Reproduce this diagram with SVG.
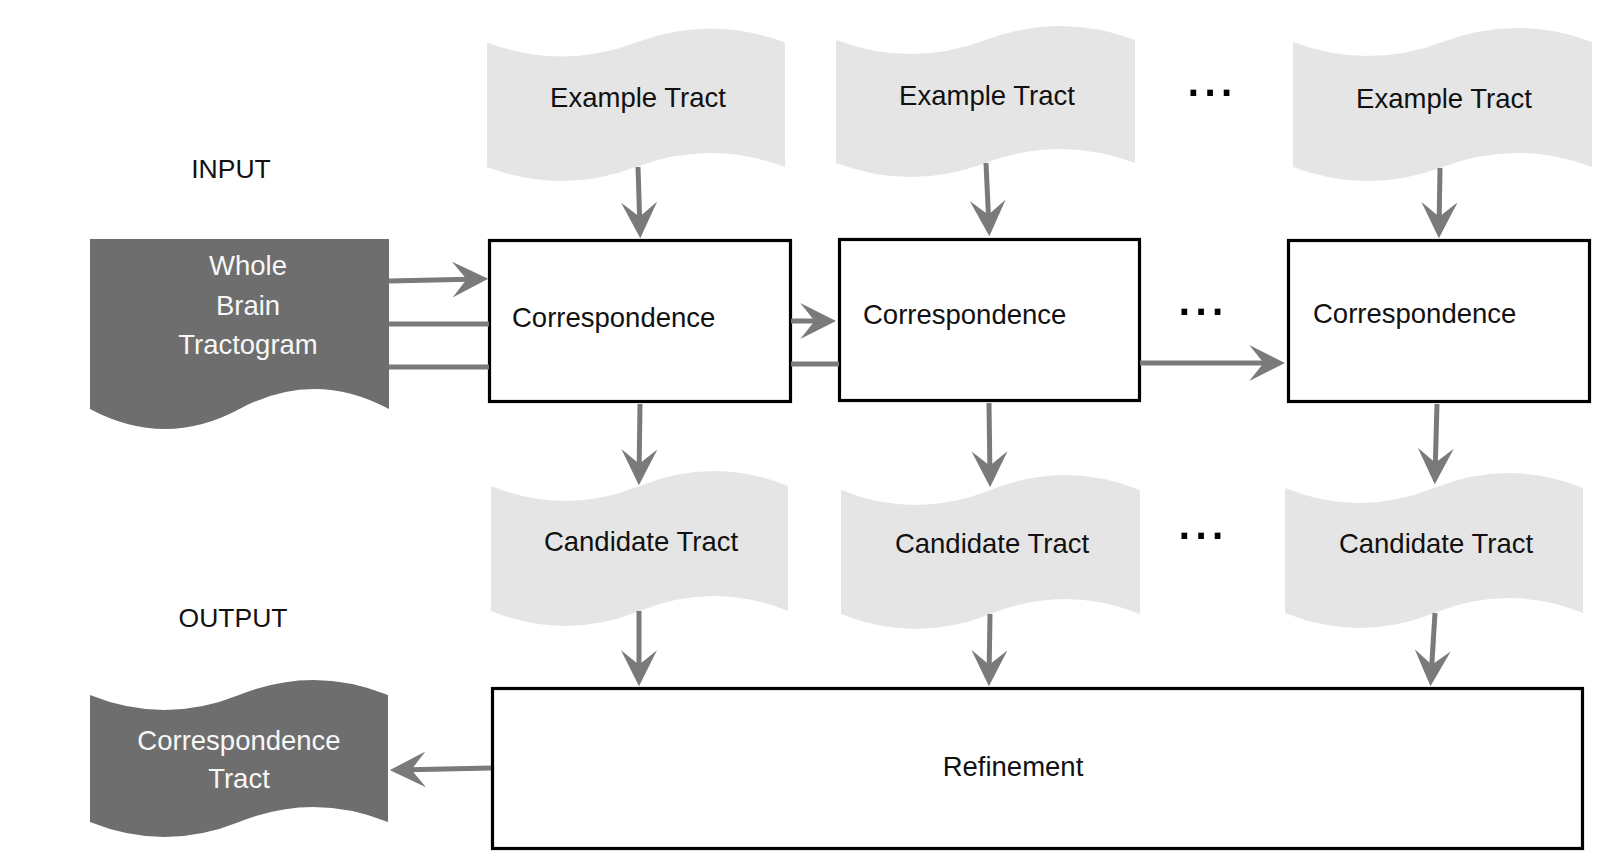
<svg xmlns="http://www.w3.org/2000/svg" width="1615" height="865" viewBox="0 0 1615 865">
<style>
.light{fill:#e5e5e5;stroke:none}
.dark{fill:#6e6e6e;stroke:none}
.box{fill:#ffffff;stroke:#000000;stroke-width:3.2}
.t{font-family:"Liberation Sans",Arial,sans-serif;font-size:27.5px;fill:#111111}
.tw{font-family:"Liberation Sans",Arial,sans-serif;font-size:27.5px;fill:#f7f7f7;text-anchor:middle}
.c{text-anchor:middle}
.dots{font-family:"Liberation Sans",Arial,sans-serif;font-size:60px;fill:#000000}
.conn line{stroke:#7a7a7a;stroke-width:5;fill:none}
.conn line.a{marker-end:url(#ah)}
</style>
<defs>
<marker id="ah" markerUnits="userSpaceOnUse" markerWidth="36" markerHeight="36" viewBox="0 0 35 35" refX="27" refY="17.5" orient="auto">
<path d="M35,17.5 L0,0 L14,17.5 L0,35 Z" fill="#7a7a7a"/>
</marker>
</defs>
<rect width="1615" height="865" fill="#ffffff"/>

<text class="t c" x="231" y="178" style="font-size:26.5px">INPUT</text>
<text class="t c" x="233" y="627" style="font-size:26.5px">OUTPUT</text>

<g id="whole-brain">
<path class="dark" d="M90,239 L389,239 L389,409 Q314,369 239.5,409 T90,409 Z"/>
<text class="tw" x="248" y="275">Whole</text>
<text class="tw" x="248" y="315">Brain</text>
<text class="tw" x="248" y="354">Tractogram</text>
</g>

<g id="example1">
<path class="light" d="M487,42.5 Q561.5,70.5 636,42.5 T785,42.5 L785,167 Q710.5,139 636,167 T487,167 Z"/>
<text class="t c" x="638" y="107">Example Tract</text>
</g>
<g id="example2">
<path class="light" d="M836,40 Q910.75,68 985.5,40 T1135,40 L1135,163 Q1060.25,135 985.5,163 T836,163 Z"/>
<text class="t c" x="987" y="105">Example Tract</text>
</g>
<g id="example3">
<path class="light" d="M1293,42 Q1367.75,70 1442.5,42 T1592,42 L1592,167 Q1517.25,139 1442.5,167 T1293,167 Z"/>
<text class="t c" x="1444" y="108">Example Tract</text>
</g>

<g id="candidate1">
<path class="light" d="M491,486 Q565.25,516 639.5,486 T788,486 L788,611 Q713.75,581 639.5,611 T491,611 Z"/>
<text class="t c" x="641" y="551">Candidate Tract</text>
</g>
<g id="candidate2">
<path class="light" d="M841,490 Q915.75,520 990.5,490 T1140,490 L1140,614 Q1065.25,584 990.5,614 T841,614 Z"/>
<text class="t c" x="992" y="553">Candidate Tract</text>
</g>
<g id="candidate3">
<path class="light" d="M1285,488 Q1359.5,518 1434,488 T1583,488 L1583,613 Q1508.5,583 1434,613 T1285,613 Z"/>
<text class="t c" x="1436" y="553">Candidate Tract</text>
</g>

<g id="correspondence-tract">
<path class="dark" d="M90,695 Q164.5,725 239,695 T388,695 L388,822 Q313.5,792 239,822 T90,822 Z"/>
<text class="tw" x="239" y="750">Correspondence</text>
<text class="tw" x="239" y="788">Tract</text>
</g>

<g id="corr1">
<rect class="box" x="489.5" y="240.5" width="301" height="161"/>
<text class="t" x="512" y="327">Correspondence</text>
</g>
<g id="corr2">
<rect class="box" x="839.5" y="239.5" width="300" height="161"/>
<text class="t" x="863" y="324">Correspondence</text>
</g>
<g id="corr3">
<rect class="box" x="1288.5" y="240.5" width="301" height="161"/>
<text class="t" x="1313" y="323">Correspondence</text>
</g>

<g id="refinement">
<rect class="box" x="492.5" y="688.5" width="1090" height="160"/>
<text class="t c" x="1013" y="776">Refinement</text>
</g>

<g id="ellipses">
<text class="dots" x="1185" y="96">...</text>
<text class="dots" x="1176" y="315">...</text>
<text class="dots" x="1176" y="539">...</text>
</g>

<g id="connectors" class="conn">
<line class="a" x1="638" y1="167" x2="640" y2="230"/>
<line class="a" x1="986" y1="163" x2="989" y2="228"/>
<line class="a" x1="1440" y1="168" x2="1439" y2="230"/>
<line class="a" x1="389" y1="281" x2="480" y2="279"/>
<line x1="389" y1="324" x2="489" y2="324"/>
<line x1="389" y1="367" x2="489" y2="367"/>
<line class="a" x1="791" y1="321" x2="828" y2="321"/>
<line x1="791" y1="364" x2="839" y2="364"/>
<line class="a" x1="1140" y1="363" x2="1277" y2="363"/>
<line class="a" x1="640" y1="404" x2="639" y2="477"/>
<line class="a" x1="989" y1="403" x2="990" y2="479"/>
<line class="a" x1="1437" y1="404" x2="1435" y2="476"/>
<line class="a" x1="639" y1="611" x2="639" y2="678"/>
<line class="a" x1="990" y1="614" x2="989" y2="678"/>
<line class="a" x1="1435" y1="613" x2="1431" y2="678"/>
<line class="a" x1="491" y1="768" x2="398" y2="770"/>
</g>
</svg>
